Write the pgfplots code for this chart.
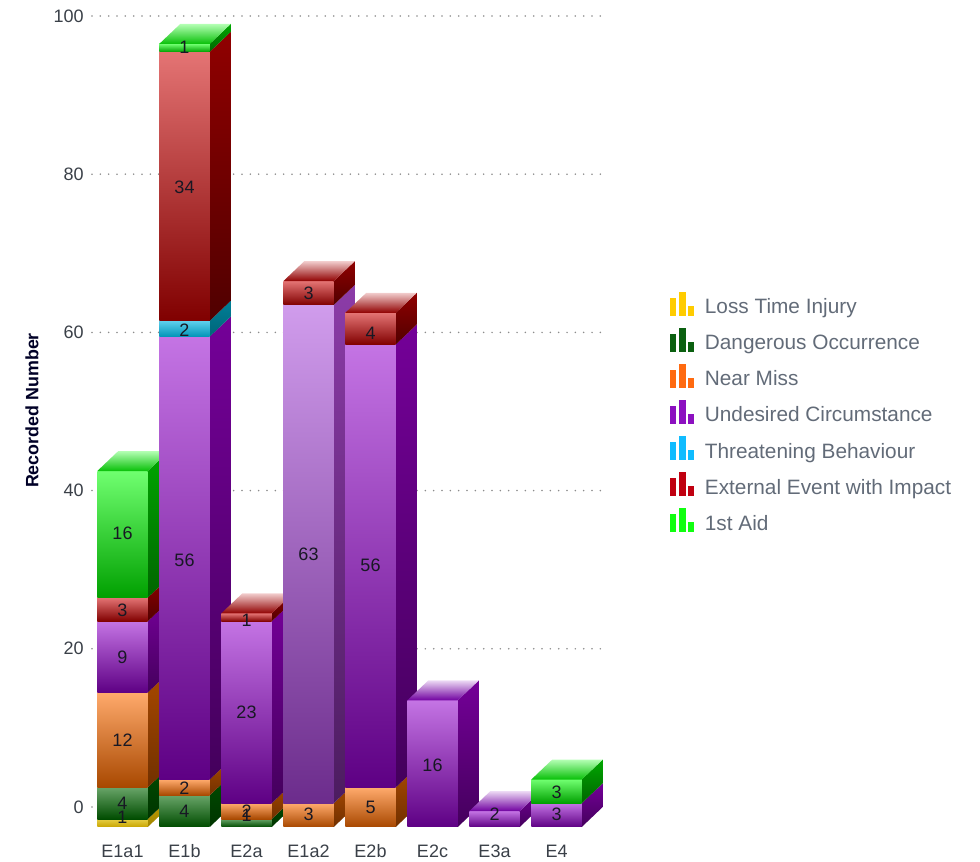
\documentclass[border=0pt]{standalone}
\usepackage{fontspec}
\setmainfont{Liberation Sans}
\usepackage{pgfplots}
\pgfplotsset{compat=1.18}
\definecolor{tickc}{HTML}{3A4048}
\definecolor{legc}{HTML}{626B78}
\definecolor{labc}{HTML}{181824}
\definecolor{gridc}{HTML}{8C8C8C}
\newcommand\mk[3]{\definecolor{#1a}{HTML}{#2}\definecolor{#1b}{HTML}{#3}\tikzset{#1/.style={top color=#1a,bottom color=#1b}}}
\mk{f-yl}{E6CE44}{C8A400}\mk{s-yl}{C0A000}{A08400}
\mk{f-dg}{68A468}{004C00}\mk{s-dg}{004C00}{003400}
\mk{f-or}{FFAA6C}{A84800}\mk{s-or}{A84800}{703000}
\mk{f-pu}{C474E4}{5E0084}\mk{s-pu}{740098}{44005C}
\mk{f-pp}{D09CEC}{6C2C8C}\mk{s-pp}{8C3CA8}{4C1C60}
\mk{f-bl}{60D0EC}{0094B8}\mk{s-bl}{008098}{006478}
\mk{f-re}{E47474}{800000}\mk{s-re}{900000}{500000}
\mk{f-li}{70FF70}{00A000}\mk{s-li}{00A800}{006400}
\mk{t-re}{F2CCCC}{900000}
\mk{t-pu}{ECD8F4}{7000A0}
\mk{t-li}{B4FFB4}{08C008}
\definecolor{l1}{HTML}{FFCC00}
\definecolor{l2}{HTML}{0B6010}
\definecolor{l3}{HTML}{FF6A10}
\definecolor{l4}{HTML}{8C10C0}
\definecolor{l5}{HTML}{10BCFF}
\definecolor{l6}{HTML}{C00010}
\definecolor{l7}{HTML}{10FF10}
\newcommand\seg[4]{%
 \pgfmathsetmacro\xl{#1-0.407}\pgfmathsetmacro\xr{#1+0.407}\pgfmathsetmacro\xs{#1+0.746}%
 \pgfmathsetmacro\yb{#2-2.53}\pgfmathsetmacro\yt{#3-2.53}%
 \addplot[forget plot,draw=none,s-#4] coordinates {(\xr,\yb) (\xs,#2) (\xs,#3) (\xr,\yt)} --cycle;
 \addplot[forget plot,draw=none,f-#4] coordinates {(\xl,\yb) (\xr,\yb) (\xr,\yt) (\xl,\yt)} --cycle;
}
\newcommand\toppart[3]{%
 \pgfmathsetmacro\xl{#1-0.407}\pgfmathsetmacro\xr{#1+0.407}\pgfmathsetmacro\xs{#1+0.746}\pgfmathsetmacro\xk{#1-0.068}%
 \pgfmathsetmacro\yt{#2-2.53}%
 \addplot[forget plot,draw=none,t-#3] coordinates {(\xl,\yt) (\xr,\yt) (\xs,#2) (\xk,#2)} --cycle;
}
\newcommand\legimg[1]{\addlegendimage{fill=#1,draw=none}}
\begin{document}
\begin{tikzpicture}
\useasboundingbox (-69pt,-26.25pt) rectangle (666pt,620.25pt);
\begin{axis}[
 scale only axis, width=383.25pt, height=608.25pt,
 xmin=-0.492, xmax=7.75, ymin=-2.53, ymax=100, clip=false,
 axis line style={draw=none}, major tick length=0pt,
 xtick={0,...,7}, xticklabels={E1a1,E1b,E2a,E1a2,E2b,E2c,E3a,E4},
 ytick={0,20,40,60,80,100},
 ymajorgrids, xmajorgrids=false,
 grid style={gridc,line width=1.3pt,line cap=round,dash pattern=on 0pt off 6.25pt},
 axis on top=false,
 /pgf/number format/assume math mode=true,
 ticklabel style={font=\fontsize{13.5}{15}\selectfont,text=tickc},
 xticklabel style={anchor=base,yshift=-23pt},
 yticklabel style={xshift=-2.75pt},
 ylabel={Recorded Number},
 ylabel style={font=\bfseries\fontsize{13.4}{15}\selectfont,text=black!85!blue,at={(rel axis cs:0,0.5136)},anchor=center,yshift=45pt},
 legend style={at={(1.131,0.6605)},anchor=north west,draw=none,fill=none,font=\fontsize{15.6}{17}\selectfont,text=legc,row sep=7.6pt,column sep=8pt,inner sep=0pt,
   nodes={inner sep=0pt,text height=11pt,text depth=3pt}},
 legend cell align=left,
 legend image code/.code={
   \fill[#1] (0pt,-5.5pt) rectangle (4.5pt,8pt);
   \fill[#1] (6.5pt,-5.5pt) rectangle (11.5pt,12.5pt);
   \fill[#1] (13.5pt,-5.5pt) rectangle (18pt,2pt);
 },
]
\legimg{l1}\addlegendentry{Loss Time Injury}
\legimg{l2}\addlegendentry{Dangerous Occurrence}
\legimg{l3}\addlegendentry{Near Miss}
\legimg{l4}\addlegendentry{Undesired Circumstance}
\legimg{l5}\addlegendentry{Threatening Behaviour}
\legimg{l6}\addlegendentry{External Event with Impact}
\legimg{l7}\addlegendentry{1st Aid}
% E1a1
\seg{0}{0}{1}{yl}\seg{0}{1}{5}{dg}\seg{0}{5}{17}{or}\seg{0}{17}{26}{pu}\seg{0}{26}{29}{re}\seg{0}{29}{45}{li}\toppart{0}{45}{li}
% E1b
\seg{1}{0}{4}{dg}\seg{1}{4}{6}{or}\seg{1}{6}{62}{pu}\seg{1}{62}{64}{bl}\seg{1}{64}{98}{re}\seg{1}{98}{99}{li}\toppart{1}{99}{li}
% E2a
\seg{2}{0}{1}{dg}\seg{2}{1}{3}{or}\seg{2}{3}{26}{pu}\seg{2}{26}{27}{re}\toppart{2}{27}{re}
% E1a2
\seg{3}{0}{3}{or}\seg{3}{3}{66}{pp}\seg{3}{66}{69}{re}\toppart{3}{69}{re}
% E2b
\seg{4}{0}{5}{or}\seg{4}{5}{61}{pu}\seg{4}{61}{65}{re}\toppart{4}{65}{re}
% E2c
\seg{5}{0}{16}{pu}\toppart{5}{16}{pu}
% E3a
\seg{6}{0}{2}{pu}\toppart{6}{2}{pu}
% E4
\seg{7}{0}{3}{pu}\seg{7}{3}{6}{li}\toppart{7}{6}{li}
% value labels
\addplot[forget plot,draw=none,mark=none,point meta=explicit symbolic,
  nodes near coords,
  nodes near coords style={anchor=center,inner sep=0pt,font=\fontsize{13.5}{15}\selectfont,text=labc}]
 table[x=x,y=y,meta=l] {
x y l
0 -1.26 1
0 0.5 4
0 8.5 12
0 18.9 9
0 24.9 3
0 34.6 16
1 -0.5 4
1 2.4 2
1 31.2 56
1 60.3 2
1 78.4 34
1 96 1
2 -1 1
2 -0.5 2
2 12 23
2 23.6 1
3 -0.9 3
3 31.9 63
3 64.9 3
4 0 5
4 30.5 56
4 59.9 4
5 5.3 16
6 -0.9 2
7 -0.9 3
7 1.9 3
};
\end{axis}
\end{tikzpicture}
\end{document}
